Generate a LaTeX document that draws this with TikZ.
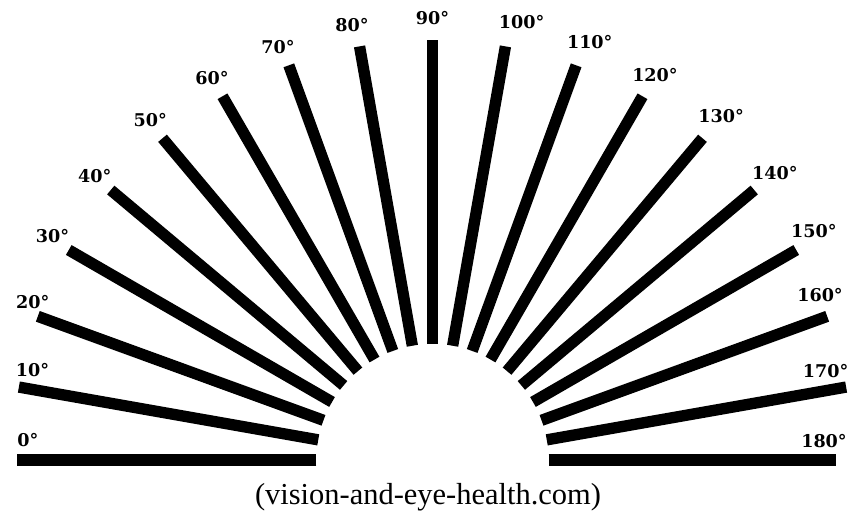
\documentclass[tikz,border=0pt]{standalone}
\usepackage{fontspec}
\setmainfont{Liberation Serif}
\newfontfamily\degfont{DejaVu Serif}
\usetikzlibrary{positioning}
\tikzset{
  ray/.style ={line width=3.4mm, black},
  deg/.style ={font=\degfont\bfseries\fontsize{15}{15}\selectfont, inner sep=0pt},
  src/.style ={font=\fontsize{26}{26}\selectfont, inner sep=0pt},
}

\begin{document}
\begin{tikzpicture}[x=0.3mm, y=0.3mm]
  \useasboundingbox (-432.5,-57) rectangle (420.5,460);
  \foreach \v/\ro/\la/\lr in {0/415/177.2/405, 10/420/167.3/410, 20/420/158.4/430,
      30/420/149.5/441, 40/420/140/441, 50/420/129.7/442, 60/420/120/441,
      70/420/110.5/441, 80/420/100.5/442, 90/420/90/442, 100/420/78.5/447,
      110/420/69.4/447, 120/420/60/445, 130/420/50/449, 140/420/40/447,
      150/420/31/445, 160/420/23/421, 170/420/12.7/403, 180/403/2.8/392}{
    \draw[ray] ({180-\v}:116) -- ({180-\v}:\ro);
    \node[deg] (d\v) at (\la:\lr) {\v{}°};
  }
  \node[src] (src) at (-4.5,-37) {(vision-and-eye-health.com)};
\end{tikzpicture}
\end{document}
